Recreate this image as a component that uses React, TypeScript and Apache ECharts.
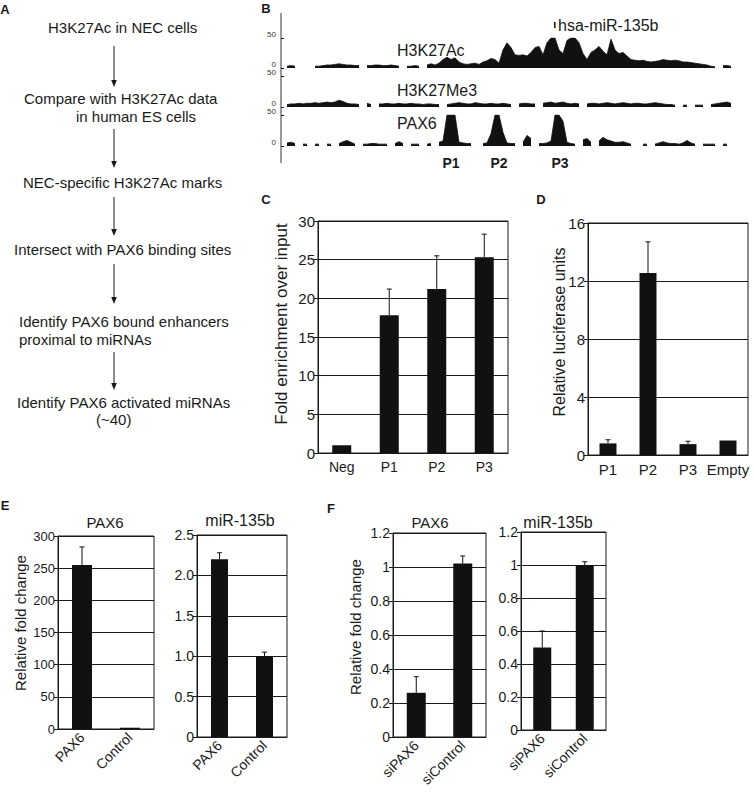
import React, { useEffect, useRef } from "react";
import * as echarts from "echarts";

const FONT = '"Liberation Sans", Arial, Helvetica, sans-serif';
const INK = "#1a1a1a";

// ---------- Panel B: genome tracks (4px bins, null = no data) ----------
const trackBins = Array.from({ length: 112 }, (_, i) => String(i));
const h3k27ac = [
  3, 4, 3, null, null, null, null, 3, 3,
  4, 5, 5, 6, 7, 6, 5, 5, 4, 4, null,
  4, 4, 5, 5, 4, 4, 5, 4, 3, null,
  3, 3, 4, 3, null, 5, 7, 5,
  8, 14, 18, 14, 17, 10, 7, 6, 7, 8, 6, 10, 12, 16, 14, 8, 30, 42, 34, 22, 21, 22,
  20, 26, 34, 36, 22, 42, 50, 50, 30, 24, 46, 50, 50, 42, 24, 14, 26, 30, 36, 28,
  22, 48, 30, 24, 26, 20, 14, 13, 12, 13, 11, 10, 11, 12, 14, 13, 12, 13, 12, 10,
  10, 9, 8, 7, 6, 5, 3, 2, null, 4, 4, 3,
];
const h3k27me3 = [
  4, 5, 5, 6, 5, 6, 6, 7, 6, 7, 8, 7, 8, 11, 9, 6, 5, 5, 4, null,
  6, 4, null,
  5, 5, 6, 5, 5, 6, 5, 5, 6, 5, 5, 4, 5, 5, 4, 4, null,
  4, 5, 6, 7, 6, 5, 5, 7, 6, 5, 5, 6, 5, 5, 6, 5, 4, null,
  5, 6, 6, 5, 5, null,
  6, 7, 8, 6, 7, 8, 6, 5, 6, 5, null,
  5, 6, 6, 5, 6, 7, 6, 5, 6, 7, 6, 5, 6, 6, 5, 5, 6, 7, 6, 5, 4, 4, 3, null,
  3, 3, null, 3, 3, 3, null, 4, 5, 6, 7, 8, 6,
];
const pax6Track = [
  5, 6, 4, null, 3, 3, null, 3, 3, null, 3, 3, null,
  4, 7, 9, 6, 3, null,
  3, 3, 4, 4, 3, 3, 3, null,
  4, 7, 4, null, 3, 3, 3, null, 3, 4, null,
  6, 8, 50, 50, 50, 6, 5, 4, 4, null, null,
  4, 5, 20, 50, 50, 22, 5, 4, 4, null,
  6, 17, 12, null,
  4, 4, 5, 8, 50, 50, 40, 6, 4, 3, null,
  10, 12, 6, null,
  8, 14, 10, 8, 6, 6, 7, 5, 3, null, null,
  3, 3, null,
  3, 5, 7, 5, 4, 4, 3, 5, 9, 5, 3, null,
  3, 3, 3, 3, null, 3, 3, null,
];
const trackNames = ["H3K27Ac", "H3K27Me3", "PAX6"];
const peakLabels = ["P1", "P2", "P3"];

// ---------- Panel C ----------
const cCats = ["Neg", "P1", "P2", "P3"];
const cVals = [1.0, 17.8, 21.2, 25.3];
const cErr = [0, 3.4, 4.3, 3.0];
// ---------- Panel D ----------
const dCats = ["P1", "P2", "P3", "Empty"];
const dVals = [0.8, 12.55, 0.75, 1.0];
const dErr = [0.25, 2.15, 0.2, 0];
// ---------- Panel E ----------
const eCats = ["PAX6", "Control"];
const ePax6Vals = [255, 2];
const ePax6Err = [28, 0];
const eMirVals = [2.2, 1.0];
const eMirErr = [0.08, 0.05];
// ---------- Panel F ----------
const fCats = ["siPAX6", "siControl"];
const fPax6Vals = [0.26, 1.02];
const fPax6Err = [0.095, 0.045];
const fMirVals = [0.5, 1.0];
const fMirErr = [0.1, 0.02];

// ---------- Panel A ----------
const flowLines = [
  { text: "H3K27Ac in NEC cells", x: 48, y: 27 },
  { text: "Compare with H3K27Ac data", x: 24, y: 98 },
  { text: "in human ES cells", x: 76, y: 116 },
  { text: "NEC-specific H3K27Ac marks", x: 23, y: 182 },
  { text: "Intersect with PAX6 binding sites", x: 14, y: 249 },
  { text: "Identify PAX6 bound enhancers", x: 19, y: 321 },
  { text: "proximal to miRNAs", x: 19, y: 339 },
  { text: "Identify PAX6 activated miRNAs", x: 17, y: 402 },
  { text: "(~40)", x: 96, y: 419 },
];
const flowArrows = [
  [46, 87],
  [129, 168],
  [197, 236],
  [264, 304],
  [352, 390],
];

function txt(x: number, y: number, text: string, o: any = {}) {
  const align = o.align || "left";
  return {
    type: "text",
    x,
    y,
    rotation: o.rotation || 0,
    style: {
      text,
      fontSize: o.size || 15,
      fontWeight: o.bold ? "bold" : "normal",
      fontFamily: FONT,
      fill: INK,
      align,
      textAlign: align,
      verticalAlign: "middle",
      textVerticalAlign: "middle",
    },
  };
}

export default function App() {
  const ref = useRef<HTMLDivElement>(null);

  useEffect(() => {
    if (!ref.current) return;
    const chart = echarts.init(ref.current, undefined, { renderer: "svg" });

    const grids: any[] = [];
    const xAxes: any[] = [];
    const yAxes: any[] = [];
    const series: any[] = [];

    // tracks
    const trackGrids = [
      { top: 38, height: 30 },
      { top: 76, height: 31 },
      { top: 115, height: 31 },
    ];
    const trackData = [h3k27ac, h3k27me3, pax6Track];
    trackGrids.forEach((g, i) => {
      grids.push({ left: 285, top: g.top, width: 448, height: g.height });
      xAxes.push({
        type: "category",
        gridIndex: i,
        data: trackBins,
        show: false,
        boundaryGap: true,
      });
      yAxes.push({
        type: "value",
        gridIndex: i,
        min: 0,
        max: 50,
        interval: 50,
        offset: 4,
        axisLine: { show: false },
        axisTick: { show: true, inside: true, length: 3, lineStyle: { color: INK } },
        axisLabel: {
          fontSize: 8,
          color: "#333",
          margin: 5,
          fontFamily: FONT,
          verticalAlign: "bottom",
          lineHeight: 8,
        },
        splitLine: { show: false },
      });
      series.push({
        type: "line",
        name: trackNames[i],
        xAxisIndex: i,
        yAxisIndex: i,
        data: trackData[i],
        symbol: "none",
        connectNulls: false,
        lineStyle: { color: "#111", width: 0.8 },
        areaStyle: { color: "#111", opacity: 1 },
        silent: true,
      });
    });

    const barCharts = [
      {
        grid: { left: 318, top: 221, width: 190, height: 232 },
        cats: cCats, vals: cVals, err: cErr, max: 30, interval: 5, barWidth: 19,
        name: "Fold enrichment over input", nameX: 281, nameY: 324, nameSize: 17,
        labelSize: 15, xSize: 14, rotate: 0, xMargin: 7,
      },
      {
        grid: { left: 588, top: 223, width: 160, height: 232 },
        cats: dCats, vals: dVals, err: dErr, max: 16, interval: 4, barWidth: 17,
        name: "Relative luciferase units", nameX: 559, nameY: 332, nameSize: 16,
        labelSize: 15, xSize: 15, rotate: 0, xMargin: 7,
      },
      {
        grid: { left: 58, top: 536, width: 96, height: 193 },
        cats: eCats, vals: ePax6Vals, err: ePax6Err, max: 300, interval: 50, barWidth: 20,
        name: "Relative fold change", nameX: 20, nameY: 623, nameSize: 15,
        labelSize: 13, xSize: 14, rotate: 45, xMargin: 6,
      },
      {
        grid: { left: 197, top: 535, width: 90, height: 202 },
        cats: eCats, vals: eMirVals, err: eMirErr, max: 2.5, interval: 0.5, barWidth: 17,
        name: "", nameX: 0, nameY: 0, nameSize: 15,
        labelSize: 14, xSize: 14, rotate: 45, xMargin: 6,
        fmt: (v: number) => (v === 0 ? "0" : v.toFixed(1)),
      },
      {
        grid: { left: 393, top: 533, width: 93, height: 204 },
        cats: fCats, vals: fPax6Vals, err: fPax6Err, max: 1.2, interval: 0.2, barWidth: 19,
        name: "Relative fold change", nameX: 355, nameY: 627, nameSize: 15,
        labelSize: 14, xSize: 14, rotate: 45, xMargin: 6,
      },
      {
        grid: { left: 521, top: 532, width: 85, height: 198 },
        cats: fCats, vals: fMirVals, err: fMirErr, max: 1.2, interval: 0.2, barWidth: 18,
        name: "", nameX: 0, nameY: 0, nameSize: 15,
        labelSize: 14, xSize: 14, rotate: 45, xMargin: 6,
      },
    ];

    const graphics: any[] = [];

    barCharts.forEach((b, k) => {
      const gi = 3 + k;
      grids.push({ ...b.grid, show: true, borderColor: INK, borderWidth: 1, backgroundColor: "transparent" });
      xAxes.push({
        type: "category",
        gridIndex: gi,
        data: b.cats,
        axisLine: { show: true, lineStyle: { color: INK, width: 1 } },
        axisTick: { show: false },
        axisLabel: {
          fontSize: b.xSize,
          color: INK,
          rotate: b.rotate,
          margin: b.xMargin,
          fontFamily: FONT,
          interval: 0,
        },
      });
      yAxes.push({
        type: "value",
        gridIndex: gi,
        min: 0,
        max: b.max,
        interval: b.interval,
        axisLine: { show: true, lineStyle: { color: INK, width: 1 } },
        axisTick: { show: true, length: 4, lineStyle: { color: INK } },
        axisLabel: {
          fontSize: b.labelSize,
          color: INK,
          margin: 3,
          fontFamily: FONT,
          formatter: (b as any).fmt,
        },
        splitLine: { show: true, lineStyle: { color: INK, width: 1 } },
      });
      if (b.name) {
        graphics.push(txt(b.nameX, b.nameY, b.name, { size: b.nameSize, align: "center", rotation: Math.PI / 2 }));
      }
      series.push({
        type: "bar",
        xAxisIndex: gi,
        yAxisIndex: gi,
        data: b.vals,
        barWidth: b.barWidth,
        itemStyle: { color: "#111" },
        silent: true,
        z: 2,
      });
      series.push({
        type: "custom",
        xAxisIndex: gi,
        yAxisIndex: gi,
        data: b.vals.map((v, i) => [i, v, b.err[i]]).filter((d) => d[2] > 0),
        encode: { x: 0, y: 1 },
        z: 3,
        silent: true,
        renderItem: (params: any, api: any) => {
          const x = api.value(0);
          const v = api.value(1);
          const e = api.value(2);
          const base = api.coord([x, v]);
          const top = api.coord([x, v + e]);
          const st = { stroke: "#111", lineWidth: 1 };
          return {
            type: "group",
            children: [
              { type: "line", shape: { x1: base[0], y1: base[1], x2: top[0], y2: top[1] }, style: st },
              { type: "line", shape: { x1: top[0] - 2.5, y1: top[1], x2: top[0] + 2.5, y2: top[1] }, style: st },
            ],
          };
        },
      });
    });

    // panel letters
    [
      ["A", 5, 9],
      ["B", 266, 8],
      ["C", 266, 199],
      ["D", 541, 199],
      ["E", 5, 505],
      ["F", 331, 508],
    ].forEach(([t, x, y]) => graphics.push(txt(x as number, y as number, t as string, { size: 13, bold: true, align: "center" })));

    // flowchart
    flowLines.forEach((l) => graphics.push(txt(l.x, l.y, l.text, { size: 15 })));
    flowArrows.forEach(([y1, y2]) => {
      graphics.push({ type: "line", shape: { x1: 114, y1, x2: 114, y2: y2 - 5 }, style: { stroke: INK, lineWidth: 1 } });
      graphics.push({ type: "polygon", shape: { points: [[111.2, y2 - 7], [116.8, y2 - 7], [114, y2]] }, style: { fill: INK } });
    });

    // tracks decorations
    graphics.push({ type: "line", shape: { x1: 281, y1: 13, x2: 281, y2: 163 }, style: { stroke: "#333", lineWidth: 1 } });
    graphics.push(txt(397, 50, trackNames[0], { size: 16 }));
    graphics.push(txt(397, 90, trackNames[1], { size: 16 }));
    graphics.push(txt(397, 123, trackNames[2], { size: 16 }));
    graphics.push({ type: "rect", shape: { x: 554, y: 22, width: 1.6, height: 6 }, style: { fill: INK } });
    graphics.push(txt(558, 25, "hsa-miR-135b", { size: 16 }));
    [451, 499, 560].forEach((x, i) => graphics.push(txt(x, 163, peakLabels[i], { size: 14, bold: true, align: "center" })));

    // titles of E and F
    graphics.push(txt(105, 522, "PAX6", { size: 15, align: "center" }));
    graphics.push(txt(240, 520, "miR-135b", { size: 16, align: "center" }));
    graphics.push(txt(430, 522, "PAX6", { size: 15, align: "center" }));
    graphics.push(txt(558, 522, "miR-135b", { size: 16, align: "center" }));

    chart.setOption({
      backgroundColor: "#ffffff",
      animation: false,
      textStyle: { fontFamily: FONT },
      grid: grids,
      xAxis: xAxes,
      yAxis: yAxes,
      series,
      graphic: { elements: graphics },
    });

    return () => chart.dispose();
  }, []);

  return (
    <div
      ref={ref}
      style={{ position: "absolute", left: 0, top: 0, width: 754, height: 799, background: "#fff" }}
    />
  );
}
